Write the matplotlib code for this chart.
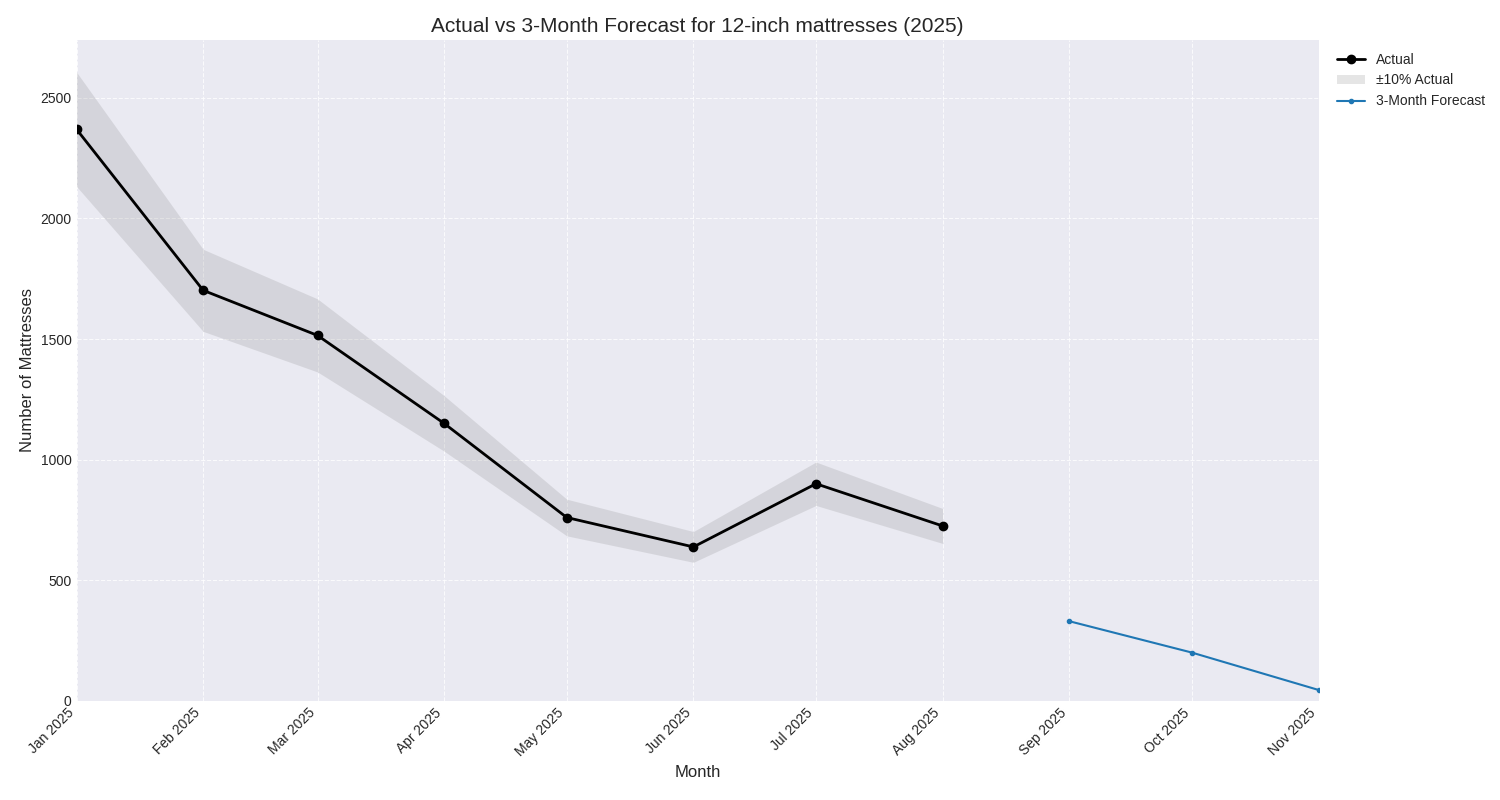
import numpy as np
import pandas as pd
import matplotlib
matplotlib.use('Agg')
import matplotlib.pyplot as plt
import matplotlib.dates as mdates

actual_months = pd.to_datetime(['2025-01-01', '2025-02-01', '2025-03-01', '2025-04-01',
                                '2025-05-01', '2025-06-01', '2025-07-01', '2025-08-01'])
actual_values = np.array([2370, 1702, 1515, 1150, 760, 638, 900, 725])
forecast_months = pd.to_datetime(['2025-09-01', '2025-10-01', '2025-11-01'])
forecast_values = np.array([330, 200, 45])

plt.style.use('seaborn-v0_8-darkgrid')
plt.rcParams['font.family'] = ['Arial', 'Liberation Sans', 'DejaVu Sans']

fig, ax = plt.subplots(figsize=(15, 8), dpi=100)
fig.subplots_adjust(left=0.051, right=0.879, top=0.95, bottom=0.124)

ax.plot(actual_months, actual_values, color='black', marker='o', linewidth=2, label='Actual')
ax.fill_between(actual_months, actual_values * 0.9, actual_values * 1.1,
                color='gray', alpha=0.2, linewidth=0, label='±10% Actual')
ax.plot(forecast_months, forecast_values, color='#1f77b4', marker='.', linewidth=1.5,
        label='3-Month Forecast')

ax.set_xlim(actual_months[0], forecast_months[-1])
ax.set_ylim(0, 2740)
ax.grid(True, linestyle='--', color='white', alpha=0.8)
ax.xaxis.set_major_locator(mdates.MonthLocator())
ax.xaxis.set_major_formatter(mdates.DateFormatter('%b %Y'))
plt.setp(ax.get_xticklabels(), rotation=45, ha='right')

ax.set_title('Actual vs 3-Month Forecast for 12-inch mattresses (2025)', fontsize=15)
ax.set_xlabel('Month', fontsize=12)
ax.set_ylabel('Number of Mattresses', fontsize=12)
ax.legend(loc='upper left', bbox_to_anchor=(1.005, 1.0), frameon=False)

fig.savefig('out.png')
